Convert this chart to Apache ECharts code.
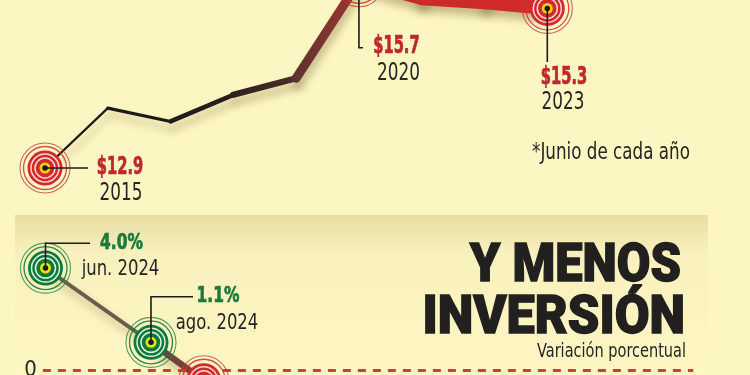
<!DOCTYPE html>
<html><head><meta charset="utf-8">
<script src="https://cdn.jsdelivr.net/npm/echarts@6/dist/echarts.min.js"></script>
<style>html,body{margin:0;padding:0;background:#fcf6c3;}#c{width:750px;height:375px;}</style>
</head><body><div id="c"></div>
<script>
// ---- data ----
const years = ['2015','2016','2017','2018','2019','2020','2021','2022','2023'];
const amounts = [12.9, 13.8, 13.6, 14.0, 14.25, 15.7, 15.45, 15.39, 15.3];
const labeledYears = ['2015','2020','2023'];
const months = ['jun. 2024','ago. 2024','sep. 2024'];
const monthIndex = [0, 2, 3];
const changes = [4.0, 1.1, -0.4];
const labeledMonths = ['jun. 2024','ago. 2024'];
const zeroLabel = '0';
const titleLines = ['Y MENOS','INVERSIÓN'];
const subtitle = 'Variación porcentual';
const note = '*Junio de cada año';

// ---- style ----
const NARROW = '"Liberation Sans Narrow","DejaVu Sans Condensed","Roboto Condensed",sans-serif';
const RED_TXT = '#c1262d', GREEN_TXT = '#1b7a3b', DARK = '#262424';

const chart = echarts.init(document.getElementById('c'), null, {renderer:'canvas'});

function lg(c0, c1){ return new echarts.graphic.LinearGradient(0,0,1,0,[{offset:0,color:c0},{offset:1,color:c1}]); }

// top line segments (tapering)
const topWidths = [2.2, 3.2, 4.6, 6.2, 9, 13, 13.5, 13.5];
const topColors = [['#1b1919','#1b1919'],['#1b1919','#201a1a'],['#201a1a','#2c1f1e'],['#2c1f1e','#4e2e2b'],['#5a332e','#a3352f'],['#c2292b','#cc2a2b'],['#cc2a2b','#d12a2b'],['#d12a2b','#d42a2c']];
const series = [];
for (let i = 0; i < years.length - 1; i++) {
  series.push({
    type:'line', xAxisIndex:0, yAxisIndex:0, silent:true, showSymbol:false, z:3, clip:false,
    data: amounts.map((v,j)=> (j===i||j===i+1) ? v : null),
    lineStyle:{width: topWidths[i], color: lg(topColors[i][0], topColors[i][1]), cap:'round', join:'round',
      shadowColor:'rgba(90,70,20,0.35)', shadowBlur:8, shadowOffsetY:7, shadowOffsetX:2}
  });
}
// bottom line segments
const botPts = monthIndex.map((m,i)=>[m, changes[i]]);
const botWidths = [3.8, 6.5];
const botColors = [['#6c5f50','#66584a'],['#5e4a40','#8c3a31']];
for (let i = 0; i < botPts.length - 1; i++) {
  const s = {
    type:'line', xAxisIndex:1, yAxisIndex:1, silent:true, showSymbol:false, z:3, clip:false,
    data: botPts.slice(i, i+2),
    lineStyle:{width: botWidths[i], color: lg(botColors[i][0], botColors[i][1]), cap:'round',
      shadowColor:'rgba(90,70,20,0.35)', shadowBlur:8, shadowOffsetY:6, shadowOffsetX:2}
  };
  if (i === 0) {
    s.markLine = {silent:true, symbol:['none','none'],
      lineStyle:{type:[8,7], color:'#d63b36', width:3},
      label:{show:true, position:'start', formatter: zeroLabel, color:'#2a2a2a', fontSize:22, fontFamily:NARROW, distance:6},
      data:[[{coord:[-0.05,0]},{coord:[12.28,0]}]]};
  }
  series.push(s);
}

// concentric target markers
function targets(xi, data, pal){
  const layers = [
    {s:50, fill:'rgba(0,0,0,0)', b:pal.ring1, bw:1.1},
    {s:43, fill:'rgba(0,0,0,0)', b:pal.ring2, bw:1.3},
    {s:35, fill:pal.disk, b:pal.disk, bw:0},
    {s:28, fill:'rgba(0,0,0,0)', b:pal.line, bw:1.5},
    {s:20, fill:'rgba(0,0,0,0)', b:pal.line, bw:1.5},
    {s:11, fill:pal.yellow, b:pal.yellow, bw:0},
    {s:5.5, fill:'#161616', b:'#161616', bw:0}
  ];
  return layers.map((L,k)=>({
    type:'scatter', xAxisIndex:xi, yAxisIndex:xi, silent:true, z:5+k*0.01, data,
    symbol:'circle', symbolSize:L.s, clip:false,
    itemStyle:{color:L.fill, borderColor:L.b, borderWidth:L.bw, opacity:1}
  }));
}
const redPal = {ring1:'rgba(185,60,55,0.75)', ring2:'rgba(200,50,50,0.85)', disk:'#d3292d', line:'rgba(255,225,215,0.95)', yellow:'#f3cf10'};
const greenPal = {ring1:'rgba(40,135,70,0.8)', ring2:'rgba(20,120,60,0.9)', disk:'#0d7a3b', line:'rgba(235,250,235,0.95)', yellow:'#e6e20e'};

const topTargetData = labeledYears.map(y=>[y, amounts[years.indexOf(y)]]);
series.push(...targets(0, topTargetData, redPal));
const posData = [], negData = [];
botPts.forEach(p=>{ (p[1] >= 0 ? posData : negData).push(p); });
series.push(...targets(1, posData, greenPal));
series.push(...targets(1, negData, redPal));

// annotation connectors + labels (offsets in px relative to each point)
const annTop = [
  {path:[[0,0],[43,0]], v:[75,0], y:[76,26]},
  {path:[[0,0],[0,66],[4,66]], v:[37.5,65], y:[39.5,92]},
  {path:[[0,0],[0,53.6]], v:[16.7,69.6], y:[15.7,94.6]}
];
const annBot = [
  {path:[[0,0],[0,-24.8],[44.5,-24.8]], v:[76,-24.6], y:[75,1.5]},
  {path:[[0,0],[0,-45.6],[42,-45.6]], v:[67,-46.3], y:[66,-19]}
];
function annRender(cfg, fmt, col, names, vSize, ySize, vScale, yScale){
  return function(params, api){
    const p = api.coord([api.value(0), api.value(1)]);
    const c = cfg[params.dataIndex];
    const val = api.value(1);
    return {type:'group', children:[
      {type:'polyline', shape:{points:c.path.map(d=>[p[0]+d[0], p[1]+d[1]])}, style:{stroke:'#1d1b1b', lineWidth:1.6, fill:'none'}},
      {type:'text', x:p[0]+c.v[0], y:p[1]+c.v[1], scaleX:vScale, style:{text:fmt(val), fill:col, stroke:col, lineWidth:0.7, fontFamily:NARROW, fontWeight:'bold', fontSize:vSize, align:'center', verticalAlign:'middle'}},
      {type:'text', x:p[0]+c.y[0], y:p[1]+c.y[1], scaleX:yScale, style:{text:names[params.dataIndex], fill:DARK, fontFamily:NARROW, fontSize:ySize, align:'center', verticalAlign:'middle'}}
    ]};
  };
}
series.push({type:'custom', xAxisIndex:0, yAxisIndex:0, z:10, silent:true, clip:false,
  data: topTargetData, renderItem: annRender(annTop, v=>'$'+v.toFixed(1), RED_TXT, labeledYears, 24, 24, 0.68, 0.78)});
series.push({type:'custom', xAxisIndex:1, yAxisIndex:1, z:10, silent:true, clip:false,
  data: labeledMonths.map(m=>botPts[months.indexOf(m)]),
  renderItem: annRender(annBot, v=>v.toFixed(1)+'%', GREEN_TXT, labeledMonths, 22, 22, 0.78, 0.83)});

const option = {
  backgroundColor:'#fcf6c3',
  animation:false,
  grid:[
    {left:45, width:502.3, top:0, height:227.85},
    {left:40.225, width:654.1, top:242.5, height:132.5}
  ],
  xAxis:[
    {type:'category', data:years, boundaryGap:false, gridIndex:0, show:false},
    {type:'value', min:-0.1, max:12.3, gridIndex:1, show:false}
  ],
  yAxis:[
    {type:'value', min:12, max:15.4263, gridIndex:0, show:false},
    {type:'value', min:-0.17578, max:5, gridIndex:1, show:false}
  ],
  graphic:[
    {type:'rect', z:-10, shape:{x:15, y:215, width:693, height:170},
      style:{fill:new echarts.graphic.LinearGradient(0,0,0,1,[{offset:0,color:'#e7dda4'},{offset:0.22,color:'#f8f1bd'},{offset:1,color:'#fdf7c4'}])}},
    {type:'text', z:50, x:532, y:153, scaleX:0.81, style:{text:note, fill:DARK, fontFamily:NARROW, fontSize:23, align:'left', verticalAlign:'middle'}},
    {type:'text', z:50, x:681, y:268, scaleX:0.92, style:{text:titleLines[0], fill:'#221f1f', stroke:'#221f1f', lineWidth:1.4, fontFamily:'Roboto, Inter, sans-serif', fontWeight:900, fontSize:53, align:'right', verticalAlign:'middle'}},
    {type:'text', z:50, x:685, y:320, scaleX:0.953, style:{text:titleLines[1], fill:'#221f1f', stroke:'#221f1f', lineWidth:1.4, fontFamily:'Roboto, Inter, sans-serif', fontWeight:900, fontSize:53, align:'right', verticalAlign:'middle'}},
    {type:'text', z:50, x:686, y:352, scaleX:0.85, style:{text:subtitle, fill:DARK, fontFamily:NARROW, fontSize:19, align:'right', verticalAlign:'middle'}}
  ],
  series
};
chart.setOption(option);
</script></body></html>
